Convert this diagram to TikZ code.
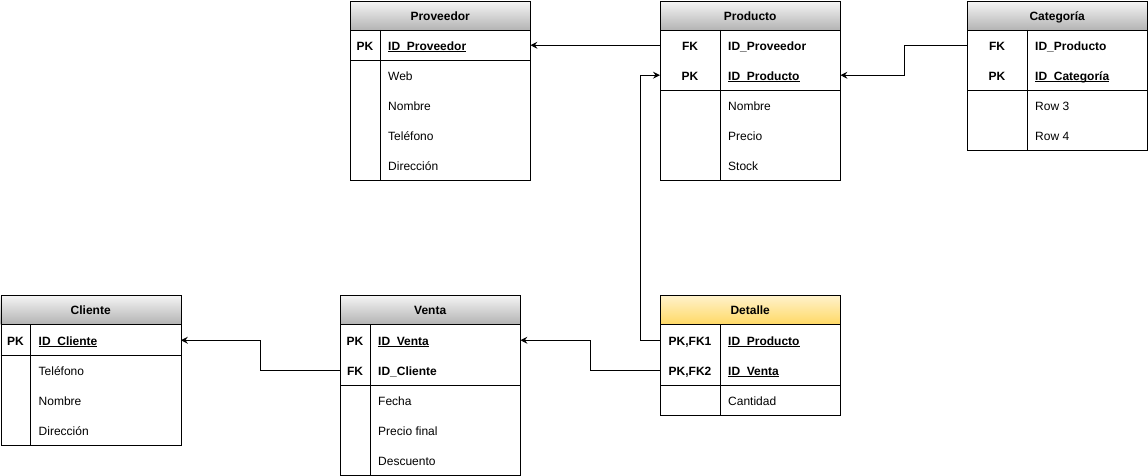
\documentclass[tikz,border=0pt]{standalone}
\usepackage{fontspec}
\setmainfont{Liberation Sans}
\usetikzlibrary{arrows.meta,calc}
\definecolor{hdtop}{HTML}{F5F5F5}
\definecolor{hdbot}{HTML}{B3B3B3}
\definecolor{yltop}{HTML}{FFF2CC}
\definecolor{ylbot}{HTML}{FFD966}
\newcommand\ulx[1]{\setbox0\hbox{#1}\rlap{\rule[-2pt]{\wd0}{0.9pt}}\box0}
\tikzset{
  tabframe/.style={draw, line width=1pt, minimum width=180pt, minimum height=#1, anchor=north west, inner sep=0pt},
  hdr/.style={top color=hdtop, bottom color=hdbot, minimum width=180pt, minimum height=29pt, anchor=north west, inner sep=0pt, font=\fontsize{12pt}{14pt}\selectfont\bfseries, text height=10pt, text depth=0pt},
  hdryel/.style={hdr, top color=yltop, bottom color=ylbot},
  rowbox/.style={minimum width=180pt, minimum height=30pt, anchor=north west, inner sep=0pt},
  keytxt/.style={inner sep=0pt, anchor=center, font=\fontsize{12pt}{14pt}\selectfont\bfseries, text height=10pt, text depth=0pt},
  fldtxt/.style={inner sep=0pt, anchor=west, font=\fontsize{12pt}{14pt}\selectfont, text height=10pt, text depth=0pt},
  rule/.style={line width=1pt},
  conn/.style={line width=1pt, -{Stealth[length=7pt,width=7pt,inset=2.5pt]}},
}
% name, x, y(top), key column width, key text, field text
\newcommand\tabrow[6]{%
  \node[rowbox] (#1) at (#2,#3) {};
  \node[keytxt] (#1k) at ([xshift=#4*0.5]#1.west) {#5};
  \node[fldtxt] (#1f) at ([xshift=#4+8]#1.west) {#6};}
\begin{document}
\begin{tikzpicture}[x=1pt,y=-1pt]
\useasboundingbox (0,0) rectangle (1148,476);
\fill[white] (0,0) rectangle (1148,476);

% ---------------- Proveedor
\node[hdr] (provH) at (350,1) {Proveedor};
\tabrow{provPK}{350}{30}{30}{PK}{\bfseries\ulx{ID\_Proveedor}}
\tabrow{provR1}{350}{60}{30}{}{Web}
\tabrow{provR2}{350}{90}{30}{}{Nombre}
\tabrow{provR3}{350}{120}{30}{}{Teléfono}
\tabrow{provR4}{350}{150}{30}{}{Dirección}
\node[tabframe=179pt] (prov) at (350,1) {};
\draw[rule] (provH.south west) -- (provH.south east);
\draw[rule] (provPK.south west) -- (provPK.south east);
\draw[rule] ([xshift=30]provPK.north west) -- ([xshift=30]provR4.south west);

% ---------------- Producto
\node[hdr] (prodH) at (660,1) {Producto};
\tabrow{prodFK}{660}{30}{60}{FK}{\bfseries ID\_Proveedor}
\tabrow{prodPK}{660}{60}{60}{PK}{\bfseries\ulx{ID\_Producto}}
\tabrow{prodR1}{660}{90}{60}{}{Nombre}
\tabrow{prodR2}{660}{120}{60}{}{Precio}
\tabrow{prodR3}{660}{150}{60}{}{Stock}
\node[tabframe=179pt] (prod) at (660,1) {};
\draw[rule] (prodH.south west) -- (prodH.south east);
\draw[rule] (prodPK.south west) -- (prodPK.south east);
\draw[rule] ([xshift=60]prodFK.north west) -- ([xshift=60]prodR3.south west);

% ---------------- Categoría
\node[hdr] (catH) at (967,1) {Categoría};
\tabrow{catFK}{967}{30}{60}{FK}{\bfseries ID\_Producto}
\tabrow{catPK}{967}{60}{60}{PK}{\bfseries\ulx{ID\_Categoría}}
\tabrow{catR1}{967}{90}{60}{}{Row 3}
\tabrow{catR2}{967}{120}{60}{}{Row 4}
\node[tabframe=149pt] (cat) at (967,1) {};
\draw[rule] (catH.south west) -- (catH.south east);
\draw[rule] (catPK.south west) -- (catPK.south east);
\draw[rule] ([xshift=60]catFK.north west) -- ([xshift=60]catR2.south west);

% ---------------- Cliente
\node[hdr] (cliH) at (0.5,295) {Cliente};
\tabrow{cliPK}{0.5}{325}{30}{PK}{\bfseries\ulx{ID\_Cliente}}
\tabrow{cliR1}{0.5}{355}{30}{}{Teléfono}
\tabrow{cliR2}{0.5}{385}{30}{}{Nombre}
\tabrow{cliR3}{0.5}{415}{30}{}{Dirección}
\node[tabframe=150pt] (cli) at (0.5,295) {};
\draw[rule] (cliH.south west) -- (cliH.south east);
\draw[rule] (cliPK.south west) -- (cliPK.south east);
\draw[rule] ([xshift=30]cliPK.north west) -- ([xshift=30]cliR3.south west);

% ---------------- Venta
\node[hdr] (venH) at (340,295) {Venta};
\tabrow{venPK}{340}{325}{30}{PK}{\bfseries\ulx{ID\_Venta}}
\tabrow{venFK}{340}{355}{30}{FK}{\bfseries ID\_Cliente}
\tabrow{venR1}{340}{385}{30}{}{Fecha}
\tabrow{venR2}{340}{415}{30}{}{Precio final}
\tabrow{venR3}{340}{445}{30}{}{Descuento}
\node[tabframe=180pt] (ven) at (340,295) {};
\draw[rule] (venH.south west) -- (venH.south east);
\draw[rule] (venFK.south west) -- (venFK.south east);
\draw[rule] ([xshift=30]venPK.north west) -- ([xshift=30]venR3.south west);

% ---------------- Detalle
\node[hdryel] (detH) at (660,295) {Detalle};
\tabrow{detFK1}{660}{325}{60}{PK,FK1}{\bfseries\ulx{ID\_Producto}}
\tabrow{detFK2}{660}{355}{60}{PK,FK2}{\bfseries\ulx{ID\_Venta}}
\tabrow{detR1}{660}{385}{60}{}{Cantidad}
\node[tabframe=120pt] (det) at (660,295) {};
\draw[rule] (detH.south west) -- (detH.south east);
\draw[rule] (detFK2.south west) -- (detFK2.south east);
\draw[rule] ([xshift=60]detFK1.north west) -- ([xshift=60]detR1.south west);

% ---------------- Connectors
\draw[conn] (prodFK.west) -- (provPK.east);
\draw[conn] (catFK.west) -- ++(-63,0) |- (prodPK.east);
\draw[conn] (detFK1.west) -- ++(-20,0) |- (prodPK.west);
\draw[conn] (detFK2.west) -- ++(-70,0) |- (venPK.east);
\draw[conn] (venFK.west) -- ++(-80,0) |- (cliPK.east);
\end{tikzpicture}
\end{document}
